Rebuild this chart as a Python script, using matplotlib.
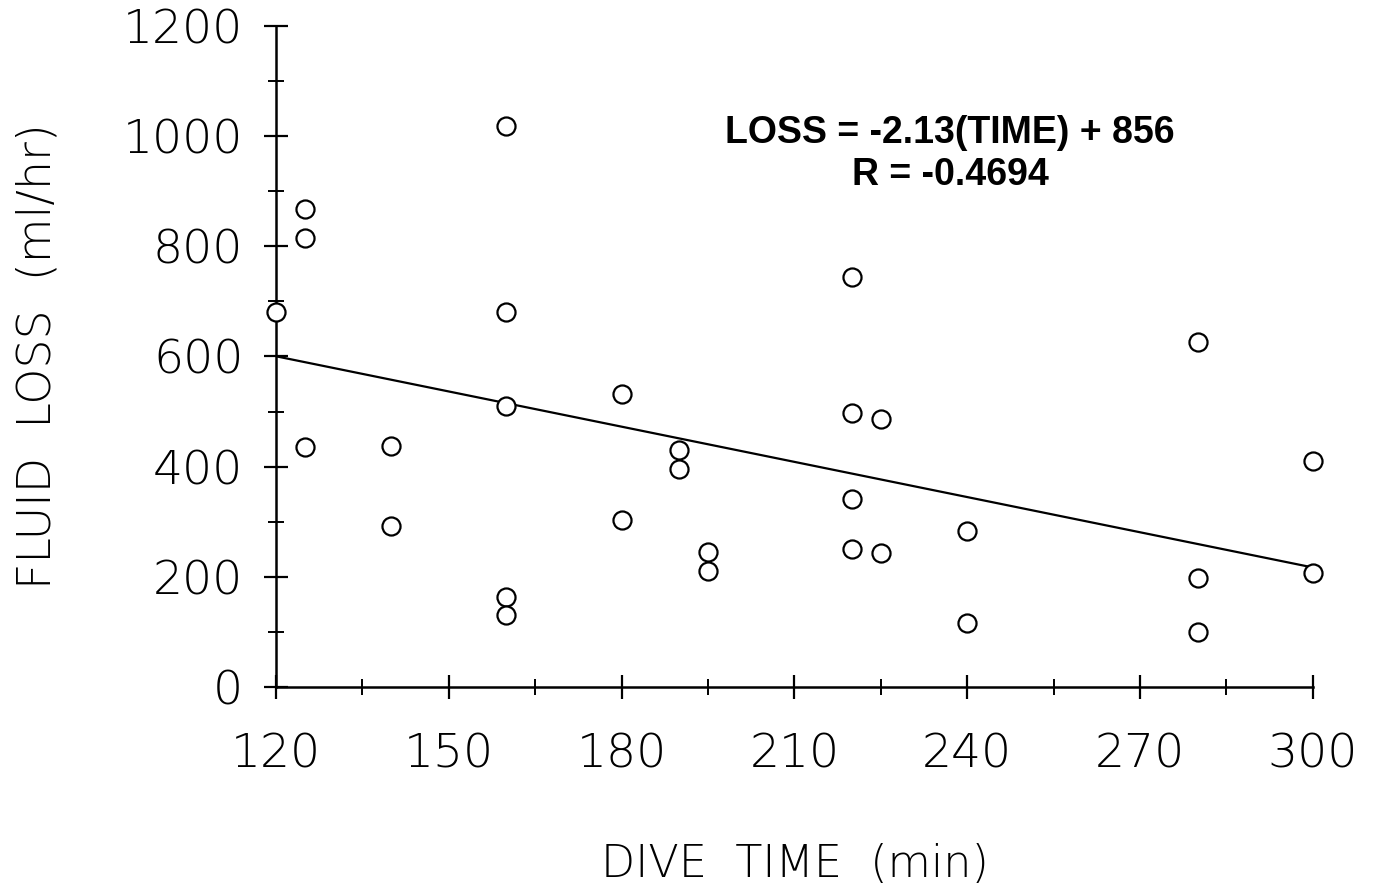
import matplotlib.pyplot as plt
from matplotlib.ticker import MultipleLocator

# dive time (min) and fluid loss (ml/hr)
dive_time = [120, 125, 125, 125, 140, 140, 160, 160, 160, 160, 160,
             180, 180, 190, 190, 195, 195, 220, 220, 225, 220, 220, 225,
             240, 240, 280, 280, 280, 300, 300]
fluid_loss = [680, 868, 815, 435, 438, 293, 1019, 680, 510, 163, 130,
              532, 303, 431, 395, 246, 210, 744, 498, 487, 342, 250, 244,
              284, 116, 626, 197, 100, 410, 207]

# regression line
slope = -2.13
intercept = 856
fit_x = [120, 300]
fit_y = [slope * t + intercept for t in fit_x]

plt.rcParams['font.family'] = ['DejaVu Sans']

fig = plt.figure(figsize=(13.82, 8.92), dpi=100)
ax = fig.add_axes([0.1997, 0.2298, 0.7503, 0.7411])

ax.plot(dive_time, fluid_loss, linestyle='none', marker='o', markersize=13,
        markerfacecolor='white', markeredgecolor='black', markeredgewidth=1.6,
        clip_on=False, zorder=3)
ax.plot(fit_x, fit_y, color='black', linewidth=1.6, zorder=2)

ax.set_xlim(120, 300)
ax.set_ylim(0, 1200)
ax.spines['top'].set_visible(False)
ax.spines['right'].set_visible(False)
ax.spines['left'].set_linewidth(1.8)
ax.spines['bottom'].set_linewidth(1.8)

ax.xaxis.set_major_locator(MultipleLocator(30))
ax.xaxis.set_minor_locator(MultipleLocator(15))
ax.yaxis.set_major_locator(MultipleLocator(200))
ax.yaxis.set_minor_locator(MultipleLocator(100))
ax.tick_params(which='major', direction='inout', length=17, width=1.6)
ax.tick_params(which='minor', direction='inout', length=11, width=1.4)
ax.tick_params(axis='y', which='major', pad=15, labelsize=34)
ax.tick_params(axis='x', which='major', pad=24, labelsize=34)
for lab in ax.get_xticklabels() + ax.get_yticklabels():
    lab.set_fontweight('light')

ax.set_xlabel('DIVE  TIME  (min)', fontsize=32, fontweight='light', labelpad=48)
ax.set_ylabel('FLUID  LOSS  (ml/hr)', fontsize=33, fontweight='light', labelpad=46)

ax.text(237, 1006, 'LOSS = -2.13(TIME) + 856', ha='center', va='center',
        fontsize=27, fontweight='bold', family='Liberation Sans')
ax.text(237, 930, 'R = -0.4694', ha='center', va='center',
        fontsize=27, fontweight='bold', family='Liberation Sans')

fig.savefig('out.png', dpi=100)
